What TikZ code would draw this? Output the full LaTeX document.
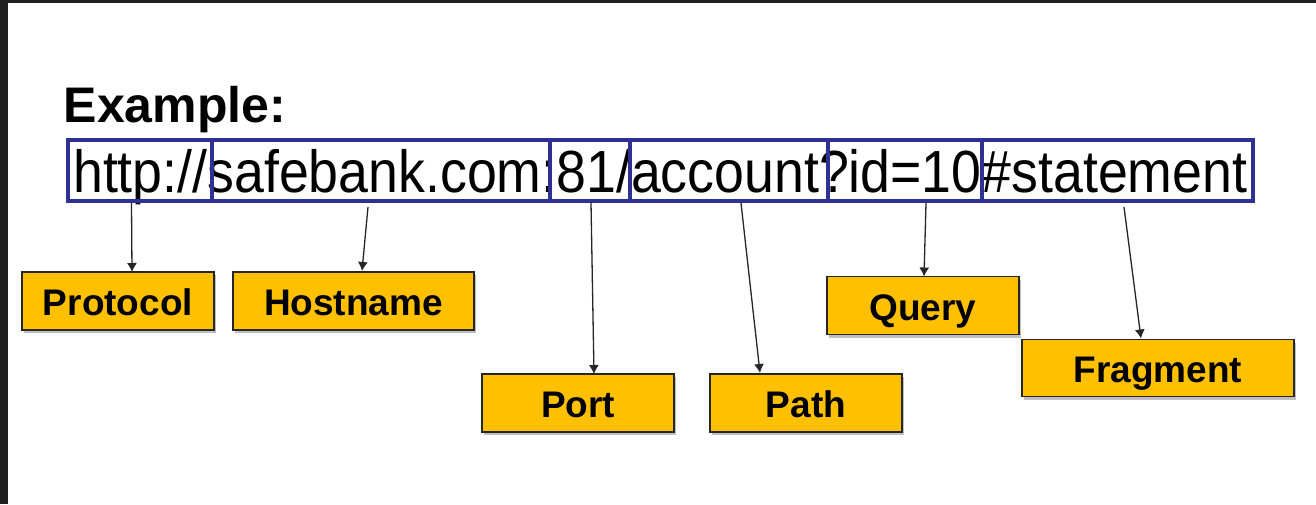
\documentclass[tikz,border=0pt]{standalone}
\usepackage{fontspec}
\setmainfont{Liberation Sans}
\newfontfamily\urlfont[FakeStretch=0.902]{Liberation Sans}
\usetikzlibrary{arrows.meta,calc,shadows}
\definecolor{segblue}{RGB}{46,48,146}
\definecolor{amber}{RGB}{255,192,0}
\definecolor{frame}{RGB}{32,32,32}
\begin{document}
\begin{tikzpicture}[x=1pt,y=-1pt,
  segbox/.style={draw=segblue, line width=3.6pt, inner sep=0pt, outer sep=0pt, minimum height=61pt},
  lbl/.style={draw=black!85, line width=1.4pt, fill=amber, inner sep=0pt, outer sep=0pt,
    minimum width=192pt, minimum height=58pt, text height=29pt, text depth=0pt,
    font=\fontsize{37}{37}\selectfont\bfseries,
    drop shadow={shadow xshift=2pt, shadow yshift=-3pt, opacity=0.25, fill=black}},
  conn/.style={draw=black!85, line width=1.3pt, -{Latex[length=9pt,width=10pt]}}]
\useasboundingbox (0,0) rectangle (1316,504);
\fill[white] (0,0) rectangle (1316,504);
\fill[frame] (0,0) rectangle (1316,3);
\fill[frame] (0,0) rectangle (8,504);
% title
\node[anchor=base west, inner sep=0pt, font=\fontsize{50}{50}\selectfont\bfseries] (title) at (63.5,122) {Example:};
% url text
\node[anchor=base west, inner sep=0pt, font=\urlfont\fontsize{59.5}{59.5}\selectfont] (url) at (73,192) {http://safebank.com:81/account?id=10\#statement};
% segment boxes
\node[segbox, minimum width=144pt] (s1) at (140,170.5) {};
\node[segbox, minimum width=338pt] (s2) at (381,170.5) {};
\node[segbox, minimum width=80pt] (s3) at (590,170.5) {};
\node[segbox, minimum width=198pt] (s4) at (729,170.5) {};
\node[segbox, minimum width=154pt] (s5) at (905,170.5) {};
\node[segbox, minimum width=271pt] (s6) at (1117.5,170.5) {};
% labels
\node[lbl] (protocol) at (118,301) {Protocol};
\node[lbl, minimum width=241pt] (hostname) at (353.5,301) {Hostname};
\node[lbl] (port) at (578,403) {Port};
\node[lbl] (path) at (806,403) {Path};
\node[lbl] (query) at (923,305.5) {Query};
\node[lbl, minimum width=272pt, minimum height=57pt] (fragment) at (1158,368) {Fragment};
% connectors
\draw[conn] ($(s1.south)+(-8.5,2)$) -- ($(protocol.north)+(14,0)$);
\draw[conn] ($(s2.south)+(-13,6)$) -- ($(hostname.north)+(8.5,-1)$);
\draw[conn] ($(s3.south)+(1,2)$) -- ($(port.north)+(16,0)$);
\draw[conn] ($(s4.south)+(12,2)$) -- ($(path.north)+(-46,-1)$);
\draw[conn] ($(s5.south)+(21,2)$) -- ($(query.north)+(1,0)$);
\draw[conn] ($(s6.south)+(6.5,6)$) -- ($(fragment.north)+(-17,-1)$);
\end{tikzpicture}
\end{document}
